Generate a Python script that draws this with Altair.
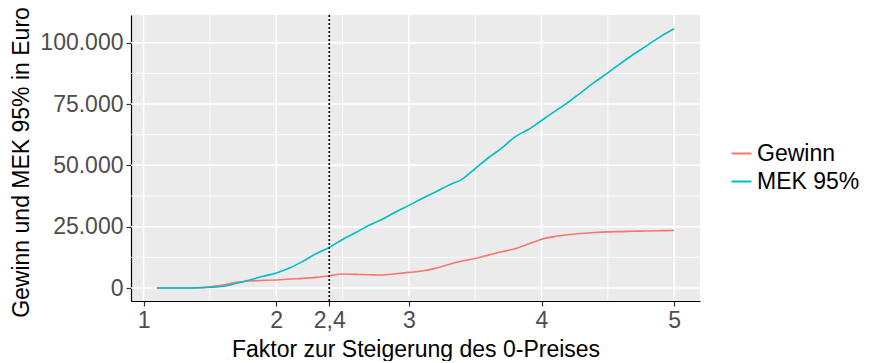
import altair as alt
import pandas as pd

faktor = [1.1, 1.2, 1.3, 1.4, 1.5, 1.6, 1.7, 1.8, 1.9, 2.0,
          2.1, 2.2, 2.3, 2.4, 2.5, 2.6, 2.7, 2.8, 2.9, 3.0,
          3.1, 3.2, 3.3, 3.4, 3.5, 3.6, 3.7, 3.8, 3.9, 4.0,
          4.1, 4.2, 4.3, 4.4, 4.5, 4.6, 4.7, 4.8, 4.9, 5.0]
mek95 = [0, 0, 0, 50, 300, 700, 1900, 3250, 4750, 6100,
         8130, 10850, 13950, 16540, 19800, 22650, 25600, 28050, 31000, 33700,
         36500, 39150, 41900, 44300, 48650, 53100, 57000, 61650, 64600, 68300,
         72000, 75700, 79800, 83900, 87700, 91700, 95500, 99000, 102600, 105700]
gewinn = [0, 0, 0, 100, 450, 1200, 2300, 2850, 3100, 3250,
          3650, 3930, 4340, 5000, 5700, 5560, 5420, 5280, 5830, 6370,
          6900, 8000, 9600, 10970, 12060, 13400, 14770, 16000, 17900, 19900,
          21000, 21700, 22200, 22600, 22900, 23000, 23150, 23250, 23350, 23450]
series = ["Gewinn", "MEK 95%"]
colors = ["#F8766D", "#00BFC4"]

x_ticks = [1, 2, 2.4, 3, 4, 5]
x_major = [1, 2, 2.4, 3, 4, 5]
x_minor = [1.5, 2.5, 3.5, 4.5]
y_major = [0, 25000, 50000, 75000, 100000]
y_minor = [12500, 37500, 62500, 87500]
marker = [2.4]

rows = []
for f, g, m in zip(faktor, gewinn, mek95):
    rows.append({"Faktor": f, "Wert": g, "Reihe": series[0]})
    rows.append({"Faktor": f, "Wert": m, "Reihe": series[1]})
df = pd.DataFrame(rows)

xs = alt.Scale(domain=[0.905, 5.195], nice=False, zero=False)
ys = alt.Scale(domain=[-5300, 111300], nice=False, zero=False)
x_title = "Faktor zur Steigerung des 0-Preises"
y_title = "Gewinn und MEK 95% in Euro"
xax = alt.Axis(values=x_ticks, labelExpr="datum.value == 2.4 ? '2,4' : format(datum.value, 'd')")
yax = alt.Axis(values=y_major, titleY=147,
               labelExpr="datum.value == 0 ? '0' : format(datum.value / 1000, 'd') + '.000'")

def X(field):
    return alt.X(field, scale=xs, title=x_title, axis=xax)

def Y(field):
    return alt.Y(field, scale=ys, title=y_title, axis=yax)

def vrules(vals, w):
    return alt.Chart(pd.DataFrame({"v": vals})).mark_rule(color="white", strokeWidth=w).encode(
        x=X("v:Q"))

def hrules(vals, w):
    return alt.Chart(pd.DataFrame({"v": vals})).mark_rule(color="white", strokeWidth=w).encode(
        y=Y("v:Q"))

lines = alt.Chart(df).mark_line(strokeWidth=1.6, interpolate="monotone").encode(
    x=X("Faktor:Q"),
    y=Y("Wert:Q"),
    color=alt.Color("Reihe:N", scale=alt.Scale(domain=series, range=colors),
                    legend=alt.Legend(title=None, orient="none", legendX=599, legendY=127,
                                      symbolType="stroke", symbolStrokeWidth=2, symbolSize=400,
                                      labelFontSize=23, labelColor="black", rowPadding=4,
                                      labelFont="Liberation Sans")),
)

vline = alt.Chart(pd.DataFrame({"v": marker})).mark_rule(color="black", strokeWidth=1.6, strokeDash=[2, 2]).encode(
    x=X("v:Q"))

chart = alt.layer(
    hrules(y_minor, 0.8), vrules(x_minor, 0.8), hrules(y_major, 1.5), vrules(x_major, 1.5),
    lines, vline
).properties(
    width=569, height=286,
    autosize=alt.AutoSizeParams(type="none"),
    padding={"left": 123, "top": 7, "right": 161, "bottom": 60}
).configure_view(fill="#EBEBEB", stroke=None).configure_axis(
    grid=False, domainColor="black", domainWidth=1.2, tickColor="#333333", tickSize=5, tickWidth=1.2,
    labelColor="#4D4D4D", labelFontSize=23, labelFont="Liberation Sans", labelPadding=3,
    titleFontSize=23, titleFont="Liberation Sans", titleColor="black", titleFontWeight="normal",
    titlePadding=6
)

chart.save("out.html", embed_options={"renderer": "svg", "actions": False})
